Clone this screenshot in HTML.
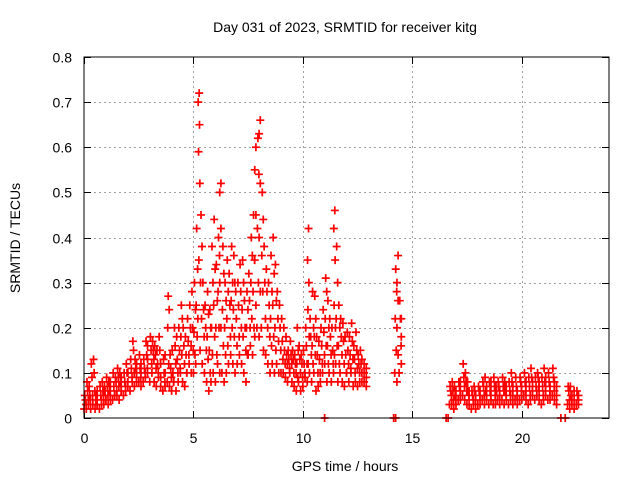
<!DOCTYPE html>
<html><head><meta charset="utf-8"><style>
body{margin:0;background:#fff}
svg{display:block;font-family:"Liberation Sans",sans-serif}
</style></head><body>
<svg id="chart" width="640" height="480">
<text x="345" y="32" font-size="14" text-anchor="middle">Day 031 of 2023, SRMTID for receiver kitg</text>
<text x="345" y="471" font-size="14" text-anchor="middle">GPS time / hours</text>
<text transform="translate(20,238) rotate(-90)" font-size="14" text-anchor="middle">SRMTID / TECUs</text>
<g id="grid"></g>
<g id="ticks"></g>
<g id="pts"></g>
<rect x="84" y="57" width="525" height="361" fill="none" stroke="#000" stroke-width="1"/>
</svg>
<script>
const xTicks=[0,5,10,15,20];
const yTicks=[0,0.1,0.2,0.3,0.4,0.5,0.6,0.7,0.8];
const yTickLabels=["0","0.1","0.2","0.3","0.4","0.5","0.6","0.7","0.8"];
const times=[0.05,0.15,0.25,0.35,0.45,0.55,0.65,0.75,0.85,0.95,1.05,1.15,1.25,1.35,1.45,1.55,1.65,1.75,1.85,1.95,2.05,2.15,2.25,2.35,2.45,2.55,2.65,2.75,2.85,2.95,3.05,3.15,3.25,3.35,3.45,3.55,3.65,3.75,3.85,3.95,4.05,4.15,4.25,4.35,4.45,4.55,4.65,4.75,4.85,4.95,5.05,5.15,5.25,5.35,5.45,5.55,5.65,5.75,5.85,5.95,6.05,6.15,6.25,6.35,6.45,6.55,6.65,6.75,6.85,6.95,7.05,7.15,7.25,7.35,7.45,7.55,7.65,7.75,7.85,7.95,8.05,8.15,8.25,8.35,8.45,8.55,8.65,8.75,8.85,8.95,9.05,9.15,9.25,9.35,9.45,9.55,9.65,9.75,9.85,9.95,10.05,10.15,10.25,10.35,10.45,10.55,10.65,10.75,10.85,10.95,11.05,11.15,11.25,11.35,11.45,11.55,11.65,11.75,11.85,11.95,12.05,12.15,12.25,12.35,12.45,12.55,12.65,12.75,12.85,12.95,14.25,14.35,14.45,14.55,16.75,16.85,16.95,17.05,17.15,17.25,17.35,17.45,17.55,17.65,17.75,17.85,17.95,18.05,18.15,18.25,18.35,18.45,18.55,18.65,18.75,18.85,18.95,19.05,19.15,19.25,19.35,19.45,19.55,19.65,19.75,19.85,19.95,20.05,20.15,20.25,20.35,20.45,20.55,20.65,20.75,20.85,20.95,21.05,21.15,21.25,21.35,21.45,21.55,21.65,22.15,22.25,22.35,22.45,22.55,22.65,14.2,16.6,11.0,21.8,22.0];
const values=[
[0.02,0.03,0.04,0.05],[0.02,0.04,0.06,0.08],[0.03,0.04,0.05,0.07],[0.02,0.05,0.09,0.12],[0.03,0.06,0.1,0.13],[0.02,0.03,0.05,0.04],[0.03,0.04,0.06],[0.02,0.04,0.05,0.07],[0.03,0.05,0.06,0.08],[0.03,0.04,0.06,0.07],
[0.04,0.05,0.07,0.09],[0.03,0.05,0.06,0.08],[0.04,0.06,0.08],[0.04,0.05,0.07,0.1],[0.05,0.06,0.08,0.09],[0.05,0.07,0.09,0.11],[0.04,0.06,0.08,0.1],[0.06,0.07,0.09],[0.05,0.07,0.08,0.1],[0.06,0.08,0.1,0.12],
[0.07,0.08,0.1],[0.06,0.09,0.11,0.13],[0.08,0.1,0.15,0.17],[0.07,0.09,0.11,0.13],[0.08,0.1,0.12],[0.08,0.09,0.11,0.14],[0.07,0.1,0.12],[0.08,0.1,0.11,0.13],[0.09,0.11,0.14,0.17],[0.1,0.13,0.16],
[0.08,0.12,0.15,0.18],[0.1,0.13,0.15,0.17],[0.08,0.11,0.14,0.16],[0.07,0.1,0.12,0.15],[0.09,0.12,0.15,0.18],[0.07,0.09,0.12],[0.06,0.08,0.1,0.13],[0.07,0.1,0.14],[0.08,0.12,0.2,0.24,0.27],[0.07,0.09,0.11,0.14],
[0.06,0.08,0.1,0.15],[0.08,0.12,0.16,0.2],[0.06,0.1,0.13,0.18],[0.08,0.11,0.15,0.2],[0.1,0.14,0.18,0.22,0.25],[0.08,0.12,0.16,0.2],[0.07,0.1,0.14,0.18],[0.1,0.14,0.17,0.22],[0.12,0.16,0.2,0.25],[0.1,0.15,0.2,0.28],
[0.1,0.14,0.19,0.24,0.3],[0.12,0.18,0.25,0.33,0.42],[0.22,0.35,0.52,0.59,0.65,0.7,0.72],[0.15,0.22,0.3,0.38,0.45],[0.12,0.18,0.24,0.3],[0.1,0.15,0.2,0.25],[0.08,0.13,0.18,0.23,0.28],[0.06,0.1,0.15,0.2,0.24],[0.08,0.14,0.2,0.3,0.38],[0.1,0.18,0.25,0.33,0.44],
[0.08,0.14,0.2,0.26,0.34],[0.12,0.2,0.28,0.36,0.4],[0.1,0.2,0.3,0.42,0.5,0.52],[0.1,0.16,0.24,0.32,0.38],[0.08,0.14,0.2,0.26,0.3],[0.1,0.16,0.22,0.28,0.35],[0.12,0.18,0.25,0.32],[0.14,0.2,0.26,0.3,0.38],[0.12,0.18,0.24,0.3,0.36],[0.1,0.16,0.22,0.28],
[0.12,0.18,0.25,0.3],[0.14,0.2,0.28,0.34],[0.12,0.18,0.24,0.3,0.35],[0.1,0.15,0.2,0.26],[0.08,0.14,0.2,0.24,0.28],[0.14,0.2,0.26,0.32],[0.16,0.22,0.3,0.36,0.4],[0.14,0.2,0.28,0.35,0.45],[0.18,0.25,0.35,0.45,0.55,0.6],[0.2,0.3,0.42,0.54,0.62],
[0.18,0.28,0.4,0.52,0.63,0.66],[0.2,0.28,0.36,0.44,0.5],[0.15,0.22,0.3,0.38],[0.14,0.2,0.28,0.33],[0.12,0.18,0.25,0.3],[0.1,0.16,0.22,0.28,0.36],[0.12,0.18,0.25,0.32,0.4],[0.1,0.15,0.2,0.26,0.34],[0.12,0.17,0.22,0.28],[0.1,0.15,0.2,0.25],
[0.1,0.13,0.17,0.22],[0.1,0.12,0.15,0.2],[0.09,0.12,0.14,0.18],[0.08,0.11,0.13,0.15],[0.1,0.12,0.14,0.17],[0.08,0.1,0.13,0.15],[0.07,0.1,0.12,0.14],[0.06,0.09,0.12,0.15,0.2],[0.08,0.1,0.13,0.16],[0.06,0.09,0.12,0.14],
[0.07,0.1,0.12,0.15],[0.09,0.12,0.16,0.2],[0.08,0.12,0.18,0.24,0.3,0.35,0.42],[0.1,0.14,0.18,0.22],[0.08,0.12,0.16,0.2,0.28],[0.1,0.14,0.18,0.22,0.27],[0.06,0.1,0.14,0.18],[0.07,0.1,0.13,0.17],[0.08,0.12,0.16,0.2],[0.1,0.14,0.19,0.24],
[0.12,0.16,0.22,0.28,0.31],[0.08,0.12,0.16,0.2,0.26],[0.1,0.14,0.18,0.22],[0.08,0.12,0.15,0.2],[0.1,0.14,0.2,0.25,0.35,0.42,0.46],[0.12,0.16,0.22,0.3,0.38],[0.08,0.12,0.16,0.2,0.25],[0.1,0.14,0.18,0.22],[0.08,0.12,0.17,0.21],[0.07,0.1,0.14,0.18],
[0.1,0.12,0.15,0.19],[0.08,0.11,0.14,0.18],[0.1,0.13,0.17,0.21],[0.07,0.1,0.13,0.16],[0.08,0.11,0.15,0.19],[0.07,0.1,0.12,0.14],[0.08,0.1,0.12,0.15],[0.08,0.1,0.13],[0.08,0.1,0.12],[0.07,0.09,0.11],
[0.1,0.15,0.22,0.28,0.33],[0.08,0.14,0.2,0.26,0.3,0.36],[0.1,0.16,0.22,0.26],[0.12,0.18,0.22],
[0.03,0.05,0.06,0.07],[0.03,0.04,0.06,0.08],[0.02,0.04,0.05,0.07],[0.03,0.05,0.06],[0.04,0.05,0.07,0.08],[0.04,0.06,0.08],[0.05,0.07,0.09,0.12],[0.04,0.06,0.08,0.1],[0.03,0.05,0.06,0.08],[0.03,0.04,0.06],
[0.02,0.04,0.05,0.06],[0.03,0.04,0.06,0.07],[0.02,0.04,0.05],[0.03,0.05,0.06,0.07],[0.03,0.04,0.06],[0.04,0.05,0.07,0.08],[0.03,0.05,0.06,0.09],[0.04,0.05,0.07],[0.03,0.05,0.06,0.08],[0.04,0.06,0.08],
[0.03,0.05,0.07,0.09],[0.03,0.04,0.06,0.07],[0.04,0.05,0.07,0.08],[0.03,0.05,0.06],[0.04,0.06,0.07,0.09],[0.03,0.05,0.06,0.08],[0.04,0.05,0.07],[0.03,0.05,0.06,0.08],[0.04,0.06,0.08,0.1],[0.03,0.05,0.07],
[0.04,0.05,0.07,0.09],[0.03,0.05,0.06],[0.04,0.06,0.08,0.09],[0.04,0.05,0.07],[0.05,0.06,0.08,0.1],[0.04,0.06,0.08],[0.03,0.05,0.07,0.09],[0.04,0.06,0.09,0.11],[0.05,0.07,0.08],[0.04,0.06,0.07,0.09],
[0.05,0.07,0.09,0.1],[0.04,0.06,0.08],[0.03,0.05,0.07,0.09],[0.04,0.06,0.08,0.11],[0.05,0.07,0.09],[0.04,0.06,0.08,0.1],[0.04,0.06,0.07],[0.05,0.07,0.09,0.11],[0.04,0.06,0.08],[0.03,0.05,0.07],
[0.03,0.04,0.06,0.07],[0.02,0.04,0.05,0.07],[0.03,0.04,0.05],[0.02,0.04,0.06],[0.03,0.04,0.05,0.06],[0.03,0.04,0.05],
[0,0],[0,0],[0],[0],[0]];
const NS='http://www.w3.org/2000/svg';
const X0=84,X1=609,Y0=418,Y1=57;
function xs(t){return X0+(X1-X0)*t/24;}
function ys(v){return Y0-(Y0-Y1)*v/0.8;}
const grid=document.getElementById('grid'),ticks=document.getElementById('ticks'),pts=document.getElementById('pts');
function line(p,x1,y1,x2,y2,st,dash){const l=document.createElementNS(NS,'line');l.setAttribute('x1',x1);l.setAttribute('y1',y1);l.setAttribute('x2',x2);l.setAttribute('y2',y2);l.setAttribute('stroke',st);if(dash)l.setAttribute('stroke-dasharray',dash);p.appendChild(l);return l;}
function txt(x,y,s,anchor){const t=document.createElementNS(NS,'text');t.setAttribute('x',x);t.setAttribute('y',y);t.setAttribute('font-size','14');t.setAttribute('text-anchor',anchor);t.textContent=s;ticks.appendChild(t);return t;}
xTicks.forEach(v=>{const x=Math.round(xs(v))+0.5;
 if(v>0){const g=line(grid,x,Y0,x,Y1,'#a0a0a0','2,3');
 
 }
 line(ticks,x,Y0,x,Y0-7,'#000');line(ticks,x,Y1,x,Y1+7,'#000');
 const t=txt(x,443,String(v),'middle');
 
 });
yTicks.forEach((v,i)=>{const y=Math.round(ys(v))+0.5;
 if(v>0&&v<0.8){const g=line(grid,X0,y,X1,y,'#a0a0a0','2,3');
 
 }
 line(ticks,X0,y,X0+7,y,'#000');line(ticks,X1,y,X1-7,y,'#000');
 const t=txt(72,y+5,yTickLabels[i],'end');
 
 });
let d='';
times.forEach((t,i)=>{const n=values[i].length;values[i].forEach((v,j)=>{const off=n>1?(-0.045+0.09*((j*3)%n)/(n-1)):0;const x=xs(t+off),y=ys(v);d+=`M${x-4},${y}h8M${x},${y-4}v8`;});});
const p=document.createElementNS(NS,'path');
p.setAttribute('d',d);p.setAttribute('stroke','#ff0000');p.setAttribute('stroke-width','1.7');p.setAttribute('fill','none');


pts.appendChild(p);
</script>
</body></html>
